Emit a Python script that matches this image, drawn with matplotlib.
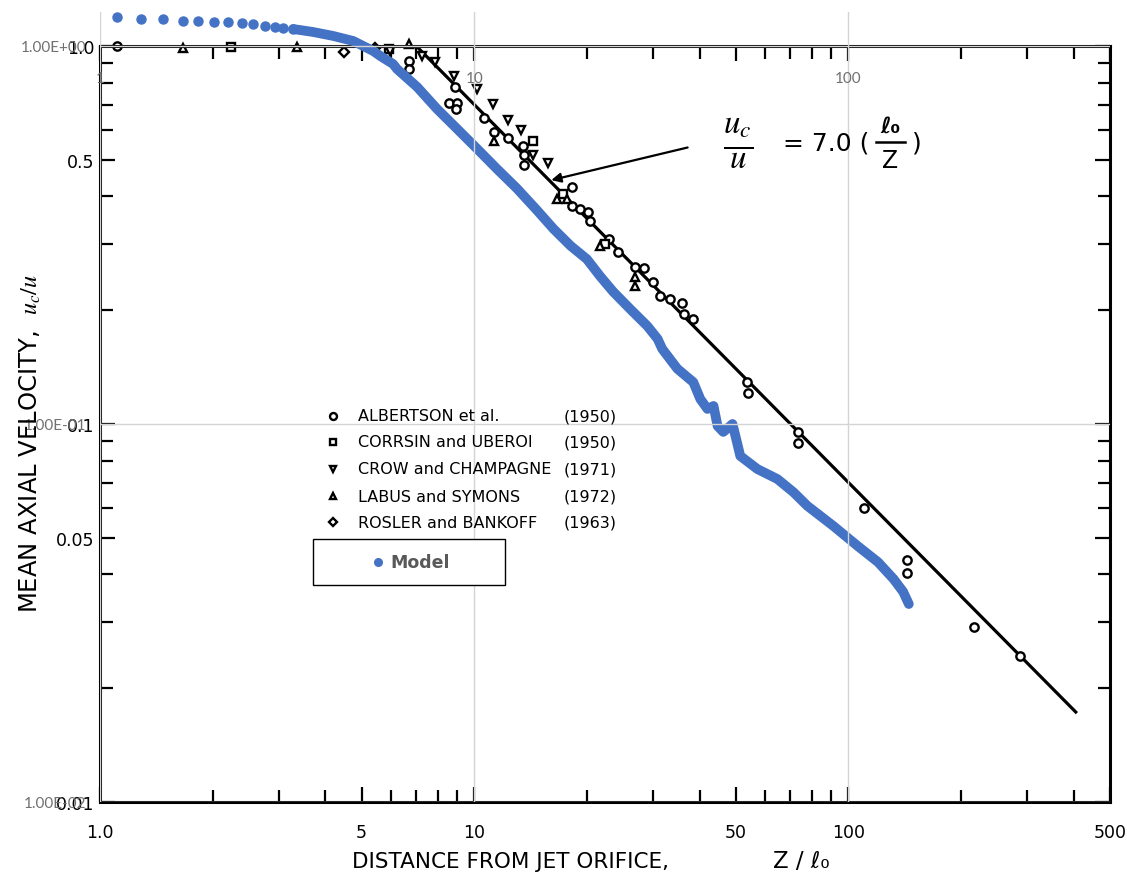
import matplotlib
matplotlib.use("Agg")
import matplotlib.pyplot as plt
from matplotlib.patches import Rectangle
from matplotlib.lines import Line2D
from matplotlib.ticker import FixedLocator, NullFormatter

plt.rcParams['mathtext.fontset'] = 'stix'

# --- scanned reference data (Z/l0, uc/u) ---
albertson_x = [1.11, 6.70, 6.70, 8.90, 8.58, 9.01, 8.95, 10.6, 11.3, 12.3, 13.5, 13.6, 13.6,
               18.3, 18.3, 19.2, 20.2, 20.4, 22.9, 24.2, 26.9, 28.4, 30.1, 31.4, 33.4, 36.0,
               36.3, 38.5, 53.6, 53.9, 73.5, 73.1, 110, 143, 143, 216, 288]
albertson_y = [1.0, 0.913, 0.869, 0.779, 0.708, 0.708, 0.681, 0.645, 0.592, 0.571, 0.544, 0.514,
               0.484, 0.424, 0.377, 0.370, 0.364, 0.345, 0.309, 0.285, 0.260, 0.259, 0.238, 0.218,
               0.214, 0.209, 0.196, 0.190, 0.129, 0.121, 0.095, 0.089, 0.060, 0.0438, 0.0404,
               0.0291, 0.0244]
corrsin_x = [2.24, 5.93, 14.4, 17.3, 22.4]
corrsin_y = [0.994, 0.982, 0.561, 0.406, 0.300]
crow_x = [5.96, 7.26, 7.87, 8.84, 10.19, 11.2, 12.3, 13.3, 14.4, 15.7]
crow_y = [0.97, 0.941, 0.907, 0.833, 0.769, 0.702, 0.637, 0.600, 0.514, 0.490]
labus_x = [1.67, 3.36, 6.70, 11.3, 16.6, 17.7, 21.7, 26.9, 26.9]
labus_y = [0.988, 0.994, 1.012, 0.561, 0.394, 0.394, 0.296, 0.245, 0.232]
rosler_x = [4.49, 5.44]
rosler_y = [0.964, 0.985]

# uc/u = 7.0 (l0/Z) correlation line
fit_x = [1.0, 7.0, 405]
fit_y = [1.0, 1.0, 0.0173]

# --- model (sparse dots, then dense part) ---
model_dot_x = [1.11, 1.29, 1.47, 1.67, 1.83, 2.02, 2.20, 2.40, 2.57, 2.76, 2.94, 3.09, 3.28]
model_dot_y = [1.191, 1.179, 1.179, 1.166, 1.166, 1.159, 1.155, 1.148, 1.144, 1.132, 1.121, 1.116, 1.109]
model_x = [3.28, 3.71, 4.20, 4.75, 5.05, 5.37, 5.61, 6.07, 6.22, 7.04, 7.96, 9.01, 10.19, 11.5,
           13.0, 14.7, 16.3, 18.1, 20.0, 21.7, 23.5, 26.1, 29.0, 30.9, 31.8, 34.9, 38.5, 40.2,
           42.0, 43.6, 44.7, 46.3, 49.0, 50.5, 51.4, 57.1, 64.6, 71.3, 77.7, 91.2, 106, 120,
           132, 140, 145]
model_y = [1.109, 1.089, 1.063, 1.031, 1.0, 0.970, 0.941, 0.896, 0.869, 0.779, 0.681, 0.603,
           0.534, 0.473, 0.420, 0.368, 0.328, 0.296, 0.273, 0.246, 0.224, 0.2015, 0.1817, 0.168,
           0.158, 0.140, 0.129, 0.1164, 0.1096, 0.1116, 0.0988, 0.0953, 0.1, 0.0885, 0.0823,
           0.076, 0.0715, 0.066, 0.0607, 0.0537, 0.0475, 0.0431, 0.0389, 0.0360, 0.0334]

legend_names = ["ALBERTSON et al.", "CORRSIN and UBEROI", "CROW and CHAMPAGNE",
                "LABUS and SYMONS", "ROSLER and BANKOFF"]
legend_years = ["(1950)", "(1950)", "(1971)", "(1972)", "(1963)"]
legend_markers = ["o", "s", "v", "^", "D"]

x_ticks = [1, 5, 10, 50, 100, 500]
x_ticklabels = ["1.0", "5", "10", "50", "100", "500"]
y_ticks = [0.01, 0.05, 0.1, 0.5, 1.0]
y_ticklabels = ["0.01", "0.05", "0.1", "0.5", "1.0"]

W, H = 1127, 879
fig = plt.figure(figsize=(W / 100, H / 100), dpi=100)


def fx(px):
    return px / W


def fy(py):
    return 1 - py / H


# scanned chart frame
ax = fig.add_axes([fx(100), fy(803), 1010 / W, 756 / H])
ax.set_xscale("log")
ax.set_yscale("log")
ax.set_xlim(1, 500)
ax.set_ylim(0.01, 1.0)
for s in ax.spines.values():
    s.set_linewidth(2.2)
ax.set_xticks(x_ticks, x_ticklabels)
ax.set_yticks(y_ticks, y_ticklabels)
ax.xaxis.set_minor_locator(FixedLocator([2, 3, 4, 6, 7, 8, 9, 20, 30, 40, 60, 70, 80, 90,
                                         200, 300, 400]))
ax.yaxis.set_minor_locator(FixedLocator([0.02, 0.03, 0.04, 0.06, 0.07, 0.08, 0.09,
                                         0.2, 0.3, 0.4, 0.6, 0.7, 0.8, 0.9]))
ax.xaxis.set_minor_formatter(NullFormatter())
ax.yaxis.set_minor_formatter(NullFormatter())
ax.tick_params(which="both", direction="in", top=True, right=True, width=1.6)
ax.tick_params(which="major", length=11)
ax.tick_params(which="minor", length=9)
ax.tick_params(axis="x", labelsize=12.5, pad=15)
ax.tick_params(axis="y", labelsize=12.5, pad=4)

ax.plot(fit_x, fit_y, color="black", lw=2.3)
mk = dict(ls="none", mfc="white", mec="black", mew=1.7, ms=6, clip_on=False)
ax.plot(albertson_x, albertson_y, marker="o", **mk)
ax.plot(corrsin_x, corrsin_y, marker="s", **mk)
ax.plot(crow_x, crow_y, marker="v", **mk)
ax.plot(labus_x, labus_y, marker="^", **mk)
ax.plot(rosler_x, rosler_y, marker="D", **dict(mk, ms=5))

ax.annotate("", xy=(15.8, 0.44), xytext=(37.8, 0.541),
            arrowprops=dict(arrowstyle="-|>", color="black", lw=1.6, mutation_scale=14))

# formula
fig.text(fx(738), fy(143), r"$\frac{u_c}{u}$", fontsize=34, ha="center", va="center")
fig.text(fx(783), fy(143), "= 7.0 (", fontsize=18, ha="left", va="center")
fig.text(fx(890), fy(127), "ℓ₀", fontsize=16, fontweight="bold", ha="center", va="center")
fig.text(fx(890), fy(161), "Z", fontsize=17, ha="center", va="center")
fig.add_artist(Line2D([fx(876), fx(905)], [fy(143), fy(143)], color="black", lw=1.8))
fig.text(fx(912), fy(143), ")", fontsize=18, ha="left", va="center")

# legend of the scanned figure
rows = [417, 443, 470, 497, 523]
for py, name, year, m in zip(rows, legend_names, legend_years, legend_markers):
    ax.plot([fx(333)], [fy(py)], transform=fig.transFigure, marker=m,
            **dict(mk, ms=5 if m != "D" else 4.5))
    fig.text(fx(358), fy(py), name, fontsize=11.5, ha="left", va="center")
    fig.text(fx(617), fy(py), year, fontsize=11.5, ha="right", va="center")

fig.text(fx(30), fy(443), "MEAN AXIAL VELOCITY,  $u_c/u$", rotation=90, fontsize=17.5,
         ha="center", va="center")
fig.text(fx(352), fy(862), "DISTANCE FROM JET ORIFICE,", fontsize=15.5, ha="left", va="center")
fig.text(fx(773), fy(862), "Z / ℓ₀", fontsize=16.5, ha="left", va="center")

# excel overlay chart with the model
ax2 = fig.add_axes([fx(100), fy(803), 1010 / W, 790 / H])
ax2.patch.set_visible(False)
ax2.set_xscale("log")
ax2.set_yscale("log")
ax2.set_xlim(1, 500)
ax2.set_ylim(0.01, 1.23)
for s in ax2.spines.values():
    s.set_visible(False)
ax2.spines["bottom"].set_position(("data", 1.0))
ax2.set_xticks([1, 10, 100], ["1", "10", "100"])
ax2.set_yticks([0.01, 0.1, 1.0], ["1.00E-02", "1.00E-01", "1.00E+00"])
ax2.minorticks_off()
ax2.tick_params(length=0, colors="#707070", labelsize=11)
ax2.tick_params(axis="x", pad=18)
ax2.tick_params(axis="y", pad=10)
for lab in ax2.get_xticklabels() + ax2.get_yticklabels():
    lab.set_family("Lato")
ax2.grid(True, which="major", color="#d4d4d4", lw=1.0)
ax2.set_axisbelow(False)

blue = "#4472C4"
ax2.plot(model_x, model_y, color=blue, lw=7, solid_capstyle="round", solid_joinstyle="round")
ax2.plot(model_dot_x, model_dot_y, ls="none", marker="o", ms=6.5, color=blue, mec=blue)

# model legend box
fig.add_artist(Rectangle((fx(313), fy(586)), (505 - 313) / W, (586 - 540) / H,
                         transform=fig.transFigure, fill=True, fc="white", ec="black",
                         lw=1, zorder=4))
fig.add_artist(Line2D([fx(378)], [fy(563)], marker="o", ms=5.5, color=blue, ls="none",
                      zorder=5))
fig.text(fx(390), fy(563), "Model", fontsize=12.5, fontweight="bold", color="#595959",
         ha="left", va="center", zorder=5)

fig.savefig("out.png", dpi=100)
